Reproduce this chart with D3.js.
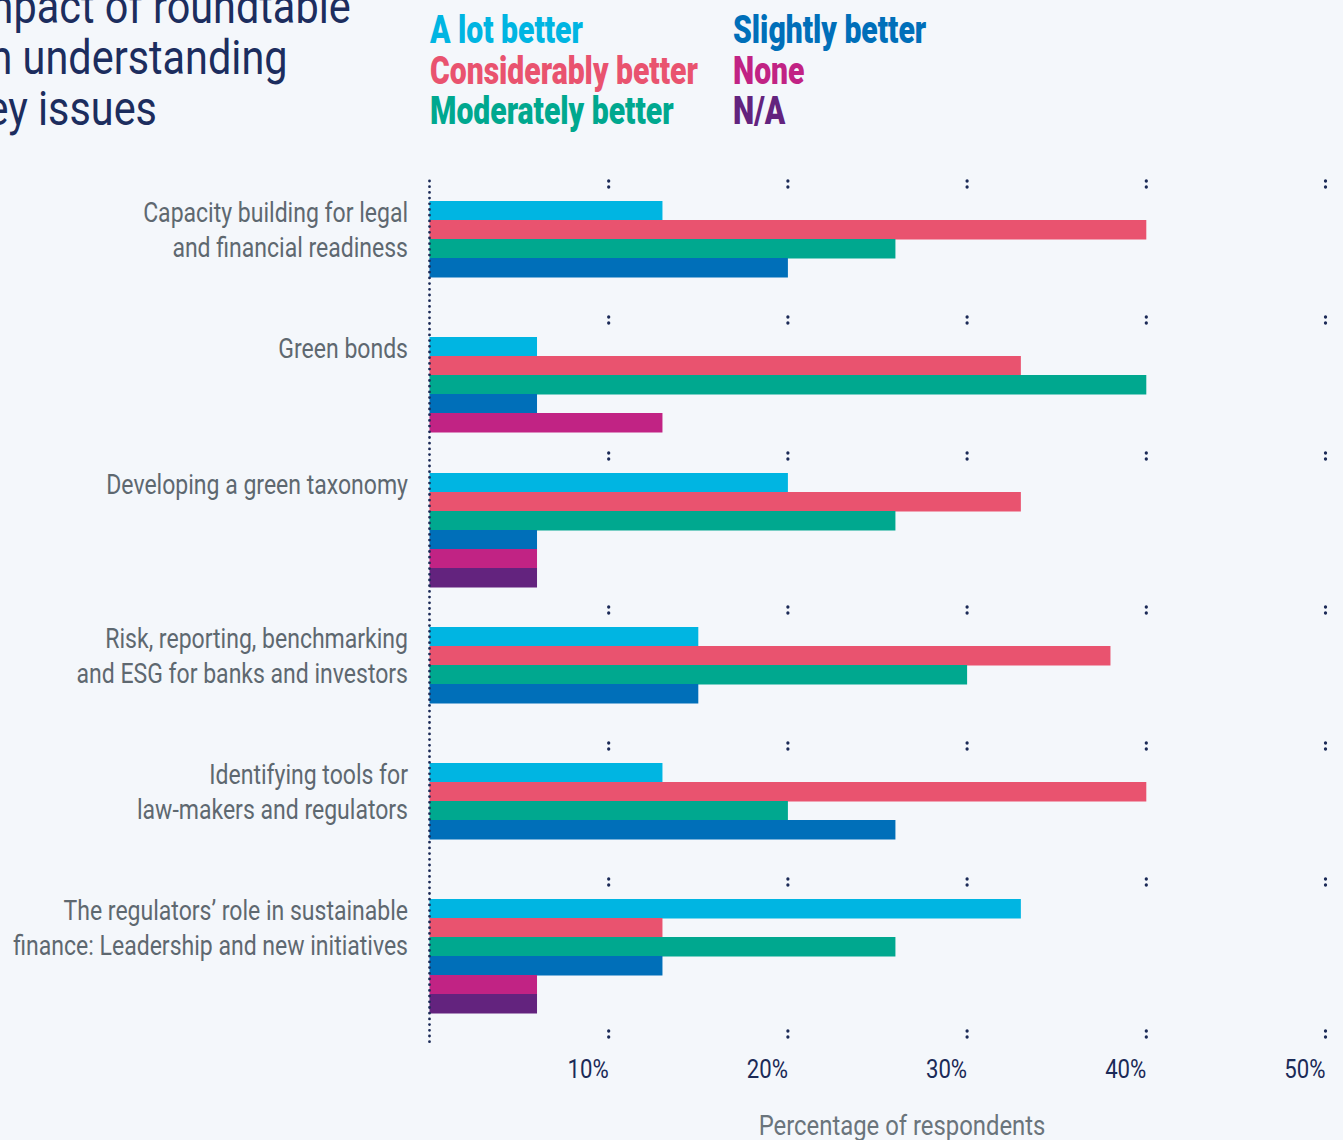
<!DOCTYPE html>
<html>
<head>
<meta charset="utf-8">
<script src="https://cdn.jsdelivr.net/npm/d3@7"></script>
<style>
  html, body { margin: 0; padding: 0; background: #f4f7fb; }
  svg { display: block; }
</style>
</head>
<body>
<svg id="chart"></svg>
<script>
'use strict';

var titleLines = ['Impact of roundtable', 'on understanding', 'key issues'];
var categories = [
  'Capacity building for legal\nand financial readiness',
  'Green bonds',
  'Developing a green taxonomy',
  'Risk, reporting, benchmarking\nand ESG for banks and investors',
  'Identifying tools for\nlaw-makers and regulators',
  'The regulators\u2019 role in sustainable\nfinance: Leadership and new initiatives'
];
var seriesNames = ['A lot better', 'Considerably better', 'Moderately better', 'Slightly better', 'None', 'N/A'];
var seriesColors = ['#00b5e2', '#e9536f', '#00a88f', '#006fb9', '#c12384', '#63237e'];

var aLotBetter = [13, 6, 20, 15, 13, 33];
var considerablyBetter = [40, 33, 33, 38, 40, 13];
var moderatelyBetter = [26, 40, 26, 30, 20, 26];
var slightlyBetter = [20, 6, 6, 15, 26, 13];
var none = [0, 13, 6, 0, 0, 6];
var notApplicable = [0, 0, 6, 0, 0, 6];

var tickValues = [10, 20, 30, 40, 50];
var axisTitle = 'Percentage of respondents';

var seriesValues = [aLotBetter, considerablyBetter, moderatelyBetter, slightlyBetter, none, notApplicable];

var width = 1343, height = 1140;
var navy = '#1b2a57';
var labelGrey = '#5e6870';

var svg = d3.select('#chart').attr('width', width).attr('height', height);

// condensed text: measure then squeeze horizontally
function measure(str, size, weight) {
  var t = svg.append('text')
    .style('font-family', 'Roboto')
    .style('font-size', size + 'px')
    .style('font-weight', weight)
    .text(str);
  var w = t.node().getComputedTextLength();
  t.remove();
  return w;
}

function squeezedText(parent, str, x, y, size, weight, k, anchor, color) {
  return parent.append('text')
    .attr('transform', 'translate(' + x + ',' + y + ') scale(' + k + ',1)')
    .attr('text-anchor', anchor)
    .style('font-family', 'Roboto')
    .style('font-size', size + 'px')
    .style('font-weight', weight)
    .style('fill', color)
    .text(str);
}

var labelSize = 27;
var labelK = 265 / measure('Capacity building for legal', labelSize, 400);

// title: the page crops its first letters, as in the source
var titleSize = 48;
var w1 = measure(titleLines[0], titleSize, 400);
var w3 = measure(titleLines[2], titleSize, 400);
var wk = measure('k', titleSize, 400);
var titleK = (203 / (w1 - w3) + 162 / (w3 - wk)) / 2;
var titleX = 157 - w3 * titleK;
titleLines.forEach(function(line, i) {
  squeezedText(svg, line, titleX, 23 + i * 51, titleSize, 400, titleK, 'start', '#1c2d5e');
});

// legend
var legendSize = 38;
var legendK = 268 / measure('Considerably better', legendSize, 900);
seriesNames.forEach(function(name, i) {
  var col = Math.floor(i / 3), row = i % 3;
  squeezedText(svg, name, 430 + col * 303, 43 + row * 40.5, legendSize, 900, legendK, 'start', seriesColors[i]);
});

// scales & layout
var x = d3.scaleLinear().domain([0, 50]).range([429.5, 1325.5]);
var barH = 19, padTop = 20, padBottom = 20, minBand = 136;

var groups = [];
var yCursor = 181;
categories.forEach(function(cat, ci) {
  var bars = [];
  seriesValues.forEach(function(vals, si) {
    if (vals[ci] > 0) bars.push({ series: si, value: vals[ci] });
  });
  var band = Math.max(minBand, padTop + bars.length * barH + padBottom);
  groups.push({ label: cat, top: yCursor, bars: bars });
  yCursor += band;
});
var bottom = yCursor - 2;

var plot = svg.append('g');

// bars
groups.forEach(function(g) {
  var yb = d3.scaleBand()
    .domain(d3.range(g.bars.length))
    .range([g.top + padTop, g.top + padTop + g.bars.length * barH]);
  plot.append('g').selectAll('rect')
    .data(g.bars)
    .enter()
    .append('rect')
    .attr('x', x(0))
    .attr('y', function(d, i) { return yb(i); })
    .attr('width', function(d) { return x(d.value) - x(0); })
    .attr('height', yb.bandwidth() + 0.5)
    .style('fill', function(d) { return seriesColors[d.series]; });

  g.label.split('\n').forEach(function(line, li) {
    squeezedText(plot, line, 408, g.top + padTop + 21 + li * 34.5, labelSize, 400, labelK, 'end', labelGrey);
  });
});

// dotted baseline
plot.append('line')
  .attr('x1', x(0)).attr('x2', x(0))
  .attr('y1', groups[0].top).attr('y2', bottom + 12)
  .attr('stroke', navy)
  .attr('stroke-width', 2.8)
  .attr('stroke-linecap', 'round')
  .attr('stroke-dasharray', '0 5.7');

// three-dot ticks at the top of every group and at the bottom
var tickRows = groups.map(function(g) { return g.top; }).concat([bottom]);
tickRows.forEach(function(ty) {
  plot.append('g').selectAll('line')
    .data(tickValues)
    .enter()
    .append('line')
    .attr('x1', function(d) { return x(d); })
    .attr('x2', function(d) { return x(d); })
    .attr('y1', ty)
    .attr('y2', ty + 12)
    .attr('stroke', navy)
    .attr('stroke-width', 3.3)
    .attr('stroke-linecap', 'round')
    .attr('stroke-dasharray', '0 6');
});

// tick labels
var axisG = plot.append('g');
tickValues.forEach(function(v) {
  squeezedText(axisG, v + '%', x(v), bottom + 47, 26, 400, labelK, 'end', navy);
});

squeezedText(plot, axisTitle, 902, bottom + 104, 28, 400, labelK, 'middle', '#6a747b');
</script>
</body>
</html>
